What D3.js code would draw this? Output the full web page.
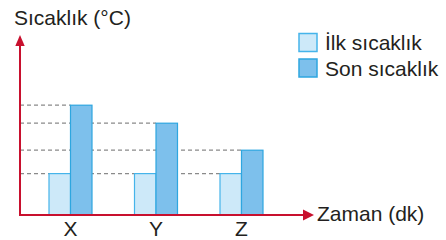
<!DOCTYPE html>
<html>
<head>
<meta charset="utf-8">
<script src="https://cdn.jsdelivr.net/npm/d3@7"></script>
<style>
  body { margin: 0; background: #fff; }
  svg { display: block; font-family: "Liberation Sans", Arial, sans-serif; }
</style>
</head>
<body>
<svg id="chart" width="446" height="240"></svg>
<script>
// data (arbitrary temperature units)
let categories = ["X", "Y", "Z"];
let ilkValues = [23, 23, 23];
let sonValues = [61, 51, 36];
let legendLabels = ["İlk sıcaklık", "Son sıcaklık"];

let axisColor = "#c8102e";
let lightFill = "#cde9f9", lightStroke = "#45b4ea";
let darkFill = "#7dc0ec", darkStroke = "#2ea6e0";
let textColor = "#231f20";

const svg = d3.select("#chart");

let originX = 20, originY = 215;
let barW = 21.5;

const x = d3.scalePoint().domain(categories).range([70.5, 241.5]);
const y = d3.scaleLinear().domain([0, 100]).range([originY, 35]);

// dashed guide lines (behind bars)
const guides = [];
guides.push({ v: ilkValues[0], x2: x(categories[categories.length - 1]) - barW });
categories.forEach(function (c, i) {
  guides.push({ v: sonValues[i], x2: x(c) });
});

svg.append("g")
  .selectAll("line")
  .data(guides)
  .enter()
  .append("line")
  .attr("x1", originX)
  .attr("x2", function (d) { return d.x2; })
  .attr("y1", function (d) { return y(d.v); })
  .attr("y2", function (d) { return y(d.v); })
  .style("stroke", "#8a8a8a")
  .style("stroke-width", 1.2)
  .style("stroke-dasharray", "4,3");

// bars
const bars = svg.append("g");
bars.selectAll("rect.ilk")
  .data(categories)
  .enter()
  .append("rect")
  .attr("class", "ilk")
  .attr("x", function (d) { return x(d) - barW; })
  .attr("y", function (d, i) { return y(ilkValues[i]); })
  .attr("width", barW)
  .attr("height", function (d, i) { return originY - y(ilkValues[i]); })
  .style("fill", lightFill)
  .style("stroke", lightStroke)
  .style("stroke-width", 1.2);

bars.selectAll("rect.son")
  .data(categories)
  .enter()
  .append("rect")
  .attr("class", "son")
  .attr("x", function (d) { return x(d); })
  .attr("y", function (d, i) { return y(sonValues[i]); })
  .attr("width", barW)
  .attr("height", function (d, i) { return originY - y(sonValues[i]); })
  .style("fill", darkFill)
  .style("stroke", darkStroke)
  .style("stroke-width", 1.2);

// axes with arrows
svg.append("line")
  .attr("x1", originX).attr("y1", originY + 1)
  .attr("x2", originX).attr("y2", 44)
  .style("stroke", axisColor).style("stroke-width", 2);
svg.append("path")
  .attr("d", "M" + originX + ",35 L" + (originX - 4.7) + ",46 L" + (originX + 4.7) + ",46 Z")
  .style("fill", axisColor);

svg.append("line")
  .attr("x1", originX - 1).attr("y1", originY)
  .attr("x2", 304).attr("y2", originY)
  .style("stroke", axisColor).style("stroke-width", 2);
svg.append("path")
  .attr("d", "M314," + originY + " L303," + (originY - 5.5) + " L303," + (originY + 5.5) + " Z")
  .style("fill", axisColor);

// category labels
svg.append("g")
  .selectAll("text")
  .data(categories)
  .enter()
  .append("text")
  .attr("x", function (d) { return x(d); })
  .attr("y", 236)
  .attr("text-anchor", "middle")
  .style("font-size", "21px")
  .style("fill", textColor)
  .text(function (d) { return d; });

// axis titles
svg.append("text")
  .attr("x", 14).attr("y", 25)
  .style("font-size", "21px")
  .style("fill", textColor)
  .text("Sıcaklık (°C)");

svg.append("text")
  .attr("x", 317).attr("y", 221)
  .style("font-size", "21px")
  .style("fill", textColor)
  .text("Zaman (dk)");

// legend
const legend = svg.append("g")
  .selectAll("g")
  .data(legendLabels)
  .enter()
  .append("g")
  .attr("transform", function (d, i) { return "translate(299," + (33.5 + i * 25.5) + ")"; });

legend.append("rect")
  .attr("width", 18)
  .attr("height", 18)
  .style("fill", function (d, i) { return i === 0 ? lightFill : darkFill; })
  .style("stroke", function (d, i) { return i === 0 ? lightStroke : darkStroke; })
  .style("stroke-width", 1.5);

legend.append("text")
  .attr("x", 26)
  .attr("y", 16.5)
  .style("font-size", "21px")
  .style("fill", textColor)
  .text(function (d) { return d; });
</script>
</body>
</html>
